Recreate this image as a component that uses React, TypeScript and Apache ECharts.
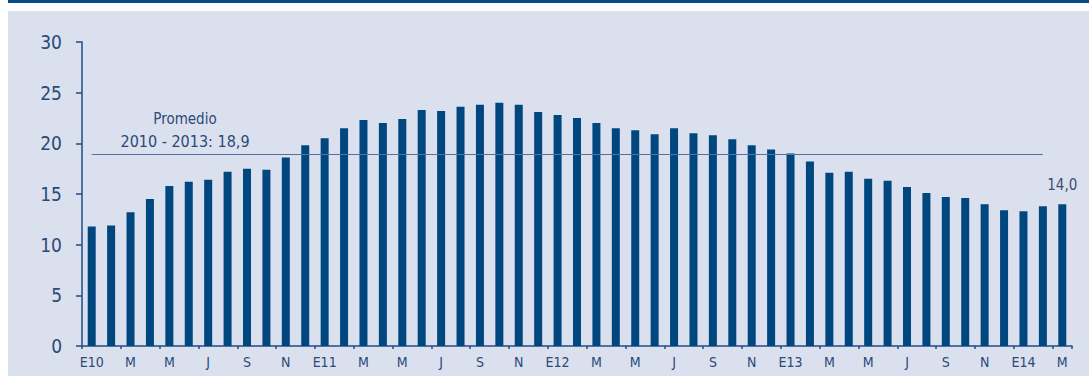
import React, { useEffect, useRef } from "react";
import * as echarts from "echarts";

// Monthly categories Jan 2010 – Mar 2014
const months: string[] = [
  "2010-01","2010-02","2010-03","2010-04","2010-05","2010-06","2010-07","2010-08","2010-09","2010-10","2010-11","2010-12",
  "2011-01","2011-02","2011-03","2011-04","2011-05","2011-06","2011-07","2011-08","2011-09","2011-10","2011-11","2011-12",
  "2012-01","2012-02","2012-03","2012-04","2012-05","2012-06","2012-07","2012-08","2012-09","2012-10","2012-11","2012-12",
  "2013-01","2013-02","2013-03","2013-04","2013-05","2013-06","2013-07","2013-08","2013-09","2013-10","2013-11","2013-12",
  "2014-01","2014-02","2014-03",
];

// Tick labels (one per month, only every other is shown)
const monthLabels: string[] = [
  "E10","F","M","A","M","J","J","A","S","O","N","D",
  "E11","F","M","A","M","J","J","A","S","O","N","D",
  "E12","F","M","A","M","J","J","A","S","O","N","D",
  "E13","F","M","A","M","J","J","A","S","O","N","D",
  "E14","F","M",
];

const values: number[] = [
  11.8, 11.9, 13.2, 14.5, 15.8, 16.2, 16.4, 17.2, 17.5, 17.4, 18.6, 19.8,
  20.5, 21.5, 22.3, 22.0, 22.4, 23.3, 23.2, 23.6, 23.8, 24.0, 23.8, 23.1,
  22.8, 22.5, 22.0, 21.5, 21.3, 20.9, 21.5, 21.0, 20.8, 20.4, 19.8, 19.4,
  19.0, 18.2, 17.1, 17.2, 16.5, 16.3, 15.7, 15.1, 14.7, 14.6, 14.0, 13.4,
  13.3, 13.8, 14.0,
];

const average = 18.9;
const averageLabel = ["Promedio", "2010 - 2013: 18,9"];
const yTicks = { min: 0, max: 30, interval: 5 };

const NARROW = '"Liberation Sans Narrow", "Arial Narrow", "DejaVu Sans Condensed", "Roboto Condensed", sans-serif';
const BAR = "#00467f";
const AXIS = "#1f4c84";
const TEXT = "#2a4a78";

export default function App() {
  const ref = useRef<HTMLDivElement>(null);
  useEffect(() => {
    if (!ref.current) return;
    const chart = echarts.init(ref.current, undefined, { renderer: "svg" });
    const last = values.length - 1;
    chart.setOption({
      animation: false,
      backgroundColor: "#ffffff",
      graphic: [
        { type: "rect", z: -10, shape: { x: 8, y: 0, width: 1081, height: 3 }, style: { fill: "#0b4a88" } },
        { type: "rect", z: -10, shape: { x: 8, y: 11, width: 1081, height: 365 }, style: { fill: "#dbe0ee" } },
        {
          type: "text",
          z: 10,
          x: 185,
          y: 119,
          style: {
            text: averageLabel[0],
            fill: TEXT,
            font: `15px ${NARROW}`,
            textAlign: "center",
            textVerticalAlign: "middle",
          },
        },
        {
          type: "text",
          z: 10,
          x: 185,
          y: 141,
          style: {
            text: averageLabel[1],
            fill: TEXT,
            font: `16px ${NARROW}`,
            textAlign: "center",
            textVerticalAlign: "middle",
          },
        },
      ],
      grid: { left: 82, right: 17, top: 42, bottom: 30, containLabel: false },
      xAxis: {
        type: "category",
        data: months,
        boundaryGap: true,
        axisLine: { show: true, lineStyle: { color: AXIS, width: 1.5 } },
        axisTick: { show: true, interval: 1, length: 3, lineStyle: { color: AXIS, width: 1.5 } },
        axisLabel: {
          interval: 1,
          margin: 9,
          color: TEXT,
          fontSize: 14,
          fontFamily: NARROW,
          formatter: (_v: string, i: number) => monthLabels[i],
        },
        splitLine: { show: false },
      },
      yAxis: {
        type: "value",
        min: yTicks.min,
        max: yTicks.max,
        interval: yTicks.interval,
        axisLine: { show: true, lineStyle: { color: AXIS, width: 1.5 } },
        axisTick: { show: true, length: 6, lineStyle: { color: AXIS, width: 1.5 } },
        axisLabel: { margin: 20, color: TEXT, fontSize: 19, fontFamily: NARROW },
        splitLine: { show: false },
      },
      series: [
        {
          type: "bar",
          data: values.map((v, i) =>
            i === last
              ? {
                  value: v,
                  label: {
                    show: true,
                    position: "top",
                    distance: 12,
                    color: "#3a4f70",
                    fontSize: 15,
                    fontFamily: NARROW,
                    formatter: (p: any) => p.value.toFixed(1).replace(".", ","),
                  },
                }
              : v
          ),
          barWidth: 8,
          itemStyle: { color: BAR },
          markLine: {
            silent: true,
            symbol: "none",
            label: { show: false },
            lineStyle: { color: "#5670a0", width: 1, type: "solid" },
            data: [[{ coord: [0, average] }, { coord: [49, average] }]],
          },
        },
      ],
    });
    return () => chart.dispose();
  }, []);
  return (
    <div
      ref={ref}
      style={{ position: "fixed", left: 0, top: 0, width: 1089, height: 376 }}
    />
  );
}
